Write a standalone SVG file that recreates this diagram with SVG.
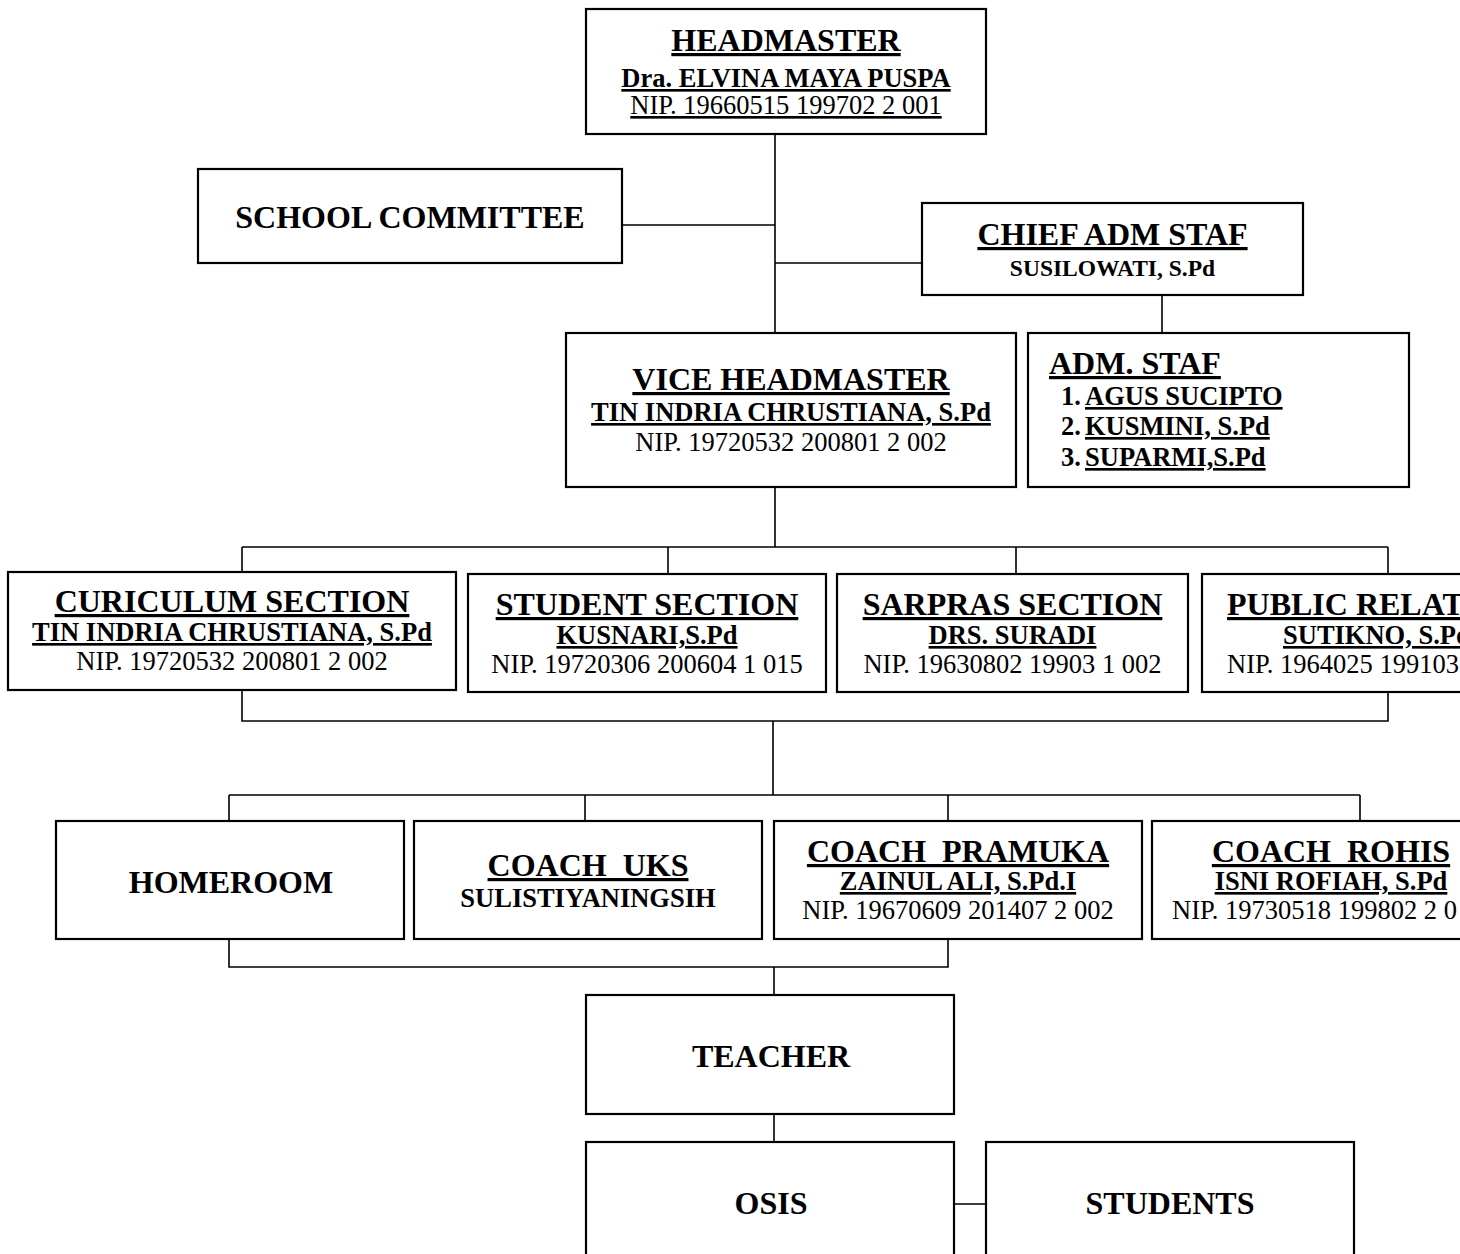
<svg xmlns="http://www.w3.org/2000/svg" width="1460" height="1254" viewBox="0 0 1460 1254">
<style>
  .box{fill:#fff;stroke:#000;stroke-width:2.2}
  .ln{fill:none;stroke:#000;stroke-width:1.6}
  text{font-family:"Liberation Serif","Times New Roman",serif;fill:#000}
  .t{font-size:32px;font-weight:bold;text-anchor:middle}
  .n{font-size:26.5px;font-weight:bold;text-anchor:middle}
  .p{font-size:26.5px;text-anchor:middle}
  .u{text-decoration:underline}
  .s{text-anchor:start}
</style>
<rect width="1460" height="1254" fill="#fff"/>
<g id="connectors">
  <path class="ln" d="M775 134V333M622 225H775M775 263H922M1162 295V333"/>
  <path class="ln" d="M775 487V547M242 547H1388M242 547V572M668 547V574M1016 547V574M1388 547V574"/>
  <path class="ln" d="M242 690V721H1388V692M773 721V795M229 795H1360M229 795V821M585 795V821M948 795V821M1360 795V821"/>
  <path class="ln" d="M229 939V967H948V939M774 967V995M774 1114V1142M954 1204H986"/>
</g>
<g id="headmaster">
  <rect class="box" x="586" y="9" width="400" height="125"/>
  <text class="t u" x="786" y="51">HEADMASTER</text>
  <text class="n u" x="786" y="87">Dra. ELVINA MAYA PUSPA</text>
  <text class="p u" x="786" y="114">NIP. 19660515 199702 2 001</text>
</g>
<g id="school-committee">
  <rect class="box" x="198" y="169" width="424" height="94"/>
  <text class="t" x="410" y="228">SCHOOL COMMITTEE</text>
</g>
<g id="chief-adm-staf">
  <rect class="box" x="922" y="203" width="381" height="92"/>
  <text class="t u" x="1112.5" y="245">CHIEF ADM STAF</text>
  <text class="n" x="1112.5" y="276" style="font-size:23.5px">SUSILOWATI, S.Pd</text>
</g>
<g id="vice-headmaster">
  <rect class="box" x="566" y="333" width="450" height="154"/>
  <text class="t u" x="791" y="390">VICE HEADMASTER</text>
  <text class="n u" x="791" y="421">TIN INDRIA CHRUSTIANA, S.Pd</text>
  <text class="p" x="791" y="451">NIP. 19720532 200801 2 002</text>
</g>
<g id="adm-staf">
  <rect class="box" x="1028" y="333" width="381" height="154"/>
  <text class="t u s" x="1049" y="374">ADM. STAF</text>
  <text class="n s" x="1061" y="405">1.</text>
  <text class="n u s" x="1085" y="405">AGUS SUCIPTO</text>
  <text class="n s" x="1061" y="435">2.</text>
  <text class="n u s" x="1085" y="435">KUSMINI, S.Pd</text>
  <text class="n s" x="1061" y="466">3.</text>
  <text class="n u s" x="1085" y="466">SUPARMI,S.Pd</text>
</g>
<g id="curiculum-section">
  <rect class="box" x="8" y="572" width="448" height="118"/>
  <text class="t u" x="232" y="612">CURICULUM SECTION</text>
  <text class="n u" x="232" y="641">TIN INDRIA CHRUSTIANA, S.Pd</text>
  <text class="p" x="232" y="670">NIP. 19720532 200801 2 002</text>
</g>
<g id="student-section">
  <rect class="box" x="468" y="574" width="358" height="118"/>
  <text class="t u" x="647" y="615">STUDENT SECTION</text>
  <text class="n u" x="647" y="644">KUSNARI,S.Pd</text>
  <text class="p" x="647" y="673">NIP. 19720306 200604 1 015</text>
</g>
<g id="sarpras-section">
  <rect class="box" x="837" y="574" width="351" height="118"/>
  <text class="t u" x="1012.5" y="615">SARPRAS SECTION</text>
  <text class="n u" x="1012.5" y="644">DRS. SURADI</text>
  <text class="p" x="1012.5" y="673">NIP. 19630802 19903 1 002</text>
</g>
<g id="public-relation">
  <rect class="box" x="1202" y="574" width="350" height="118"/>
  <text class="t u s" x="1227" y="615">PUBLIC RELAT</text>
  <text class="n u s" x="1283" y="644">SUTIKNO, S.Pd</text>
  <text class="p s" x="1227" y="673">NIP. 1964025 199103</text>
</g>
<g id="homeroom">
  <rect class="box" x="56" y="821" width="348" height="118"/>
  <text class="t" x="231" y="893">HOMEROOM</text>
</g>
<g id="coach-uks">
  <rect class="box" x="414" y="821" width="348" height="118"/>
  <text class="t u" x="588" y="876" xml:space="preserve">COACH  UKS</text>
  <text class="n" x="588" y="907">SULISTIYANINGSIH</text>
</g>
<g id="coach-pramuka">
  <rect class="box" x="774" y="821" width="368" height="118"/>
  <text class="t u" x="958" y="862" xml:space="preserve">COACH  PRAMUKA</text>
  <text class="n u" x="958" y="890">ZAINUL ALI, S.Pd.I</text>
  <text class="p" x="958" y="919">NIP. 19670609 201407 2 002</text>
</g>
<g id="coach-rohis">
  <rect class="box" x="1152" y="821" width="360" height="118"/>
  <text class="t u" x="1331" y="862" xml:space="preserve">COACH  ROHIS</text>
  <text class="n u" x="1331" y="890">ISNI ROFIAH, S.Pd</text>
  <text class="p s" x="1172" y="919">NIP. 19730518 199802 2 0</text>
</g>
<g id="teacher">
  <rect class="box" x="586" y="995" width="368" height="119"/>
  <text class="t" x="771" y="1067">TEACHER</text>
</g>
<g id="osis">
  <rect class="box" x="586" y="1142" width="368" height="130"/>
  <text class="t" x="771" y="1214">OSIS</text>
</g>
<g id="students">
  <rect class="box" x="986" y="1142" width="368" height="130"/>
  <text class="t" x="1170" y="1214">STUDENTS</text>
</g>
</svg>
